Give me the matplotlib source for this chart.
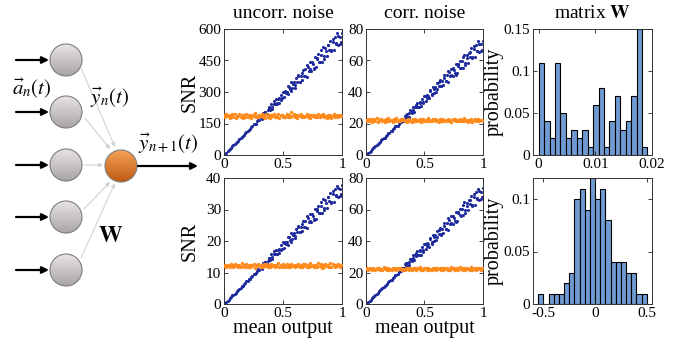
import numpy as np
import matplotlib
matplotlib.use('Agg')
import matplotlib.pyplot as plt
from matplotlib.patches import Circle
from matplotlib.colors import LinearSegmentedColormap

plt.rcParams['font.family'] = ['Liberation Serif', 'DejaVu Serif']
plt.rcParams['mathtext.fontset'] = 'stix'

# ---------------- data ----------------
# mean output of the neurons (x) for the blue (signal-driven) cloud
blue_x = [0.01, 0.02, 0.03, 0.04, 0.05, 0.06, 0.07, 0.08, 0.09, 0.10,
          0.11, 0.12, 0.13, 0.14, 0.15, 0.16, 0.17, 0.18, 0.19, 0.20,
          0.21, 0.22, 0.23, 0.24, 0.25, 0.26, 0.27, 0.28, 0.29, 0.30,
          0.31, 0.32, 0.33, 0.34, 0.35, 0.36, 0.37, 0.38, 0.39, 0.40,
          0.41, 0.42, 0.43, 0.44, 0.45, 0.46, 0.47, 0.48, 0.49, 0.50,
          0.51, 0.52, 0.53, 0.54, 0.55, 0.56, 0.57, 0.58, 0.59, 0.60,
          0.61, 0.62, 0.63, 0.64, 0.65, 0.66, 0.67, 0.68, 0.69, 0.70,
          0.71, 0.72, 0.73, 0.74, 0.75, 0.76, 0.77, 0.78, 0.79, 0.80,
          0.81, 0.82, 0.83, 0.84, 0.85, 0.86, 0.87, 0.88, 0.89, 0.90,
          0.91, 0.92, 0.93, 0.94, 0.95, 0.96, 0.97, 0.98, 0.99, 1.00,
          0.325, 0.345, 0.365, 0.385, 0.405, 0.425, 0.445, 0.465, 0.485, 0.505,
          0.525, 0.545, 0.565, 0.585, 0.605, 0.625, 0.645, 0.665, 0.685, 0.705,
          0.725, 0.745, 0.765, 0.785, 0.805, 0.825, 0.845, 0.865, 0.885, 0.905,
          0.925, 0.945, 0.965, 0.985]

snr_uncorr_top = [6, 11, 17, 22, 29, 34, 41, 46, 51, 56,
                  63, 68, 76, 80, 86, 89, 97, 103, 111, 114,
                  120, 122, 131, 137, 146, 148, 150, 160, 169, 167,
                  182, 173, 199, 190, 207, 193, 213, 227, 216, 244,
                  220, 244, 243, 266, 246, 267, 249, 287, 271, 302,
                  276, 305, 302, 289, 326, 313, 348, 317, 346, 321,
                  365, 350, 381, 350, 378, 357, 405, 376, 409, 371,
                  421, 402, 441, 401, 432, 416, 465, 418, 464, 479,
                  443, 477, 445, 512, 470, 510, 471, 522, 502, 544,
                  498, 540, 498, 563, 531, 580, 525, 564, 536, 581,
                  180, 206, 196, 226, 229, 257, 244, 270, 263, 299,
                  293, 329, 303, 337, 335, 374, 349, 390, 375, 430,
                  409, 442, 410, 456, 445, 498, 458, 493, 525, 495,
                  554, 528, 567, 528]

snr_corr_top = [0.7, 1.4, 2.1, 2.7, 3.6, 4.2, 5.1, 5.7, 6.4, 7.0,
                7.8, 8.5, 9.5, 10.0, 10.7, 11.1, 12.1, 12.8, 13.8, 14.2,
                15.0, 15.2, 16.3, 17.1, 18.2, 18.4, 18.7, 19.9, 21.1, 20.8,
                22.7, 21.6, 24.8, 23.7, 25.8, 24.0, 26.5, 28.3, 26.9, 30.4,
                27.4, 30.4, 30.3, 33.1, 30.7, 33.3, 31.0, 35.8, 33.8, 37.6,
                34.4, 38.0, 37.6, 36.0, 40.6, 39.0, 43.4, 39.5, 43.1, 40.0,
                45.5, 43.6, 47.5, 43.6, 47.1, 44.5, 50.5, 46.8, 51.0, 46.2,
                52.5, 50.1, 54.9, 50.0, 53.8, 51.8, 57.9, 52.1, 57.8, 59.7,
                55.2, 59.4, 55.4, 63.8, 58.6, 63.5, 58.7, 65.0, 62.5, 67.8,
                62.1, 67.3, 62.1, 70.1, 66.2, 72.3, 65.4, 70.3, 66.8, 72.4,
                22.4, 25.7, 24.4, 28.2, 28.5, 32.0, 30.4, 33.6, 32.8, 37.3,
                36.5, 41.0, 37.8, 42.0, 41.7, 46.6, 43.5, 48.6, 46.7, 53.6,
                51.0, 55.1, 51.1, 56.8, 55.4, 62.1, 57.1, 61.4, 65.4, 61.7,
                69.0, 65.8, 70.6, 65.8]

snr_uncorr_bot = [0.4, 0.7, 1.1, 1.4, 1.9, 2.2, 2.7, 3.0, 3.3, 3.6,
                  4.1, 4.4, 4.9, 5.2, 5.6, 5.8, 6.3, 6.7, 7.2, 7.4,
                  7.8, 7.9, 8.5, 8.9, 9.5, 9.6, 9.7, 10.4, 11.0, 10.8,
                  11.8, 11.2, 12.9, 12.3, 13.4, 12.5, 13.8, 14.7, 14.0, 15.8,
                  14.3, 15.8, 15.8, 17.3, 16.0, 17.3, 16.2, 18.6, 17.6, 19.6,
                  17.9, 19.8, 19.6, 18.8, 21.2, 20.3, 22.6, 20.6, 22.5, 20.8,
                  23.7, 22.7, 24.7, 22.7, 24.5, 23.2, 26.3, 24.4, 26.5, 24.1,
                  27.3, 26.1, 28.6, 26.0, 28.0, 27.0, 30.2, 27.1, 30.1, 31.1,
                  28.8, 31.0, 28.9, 33.2, 30.5, 33.1, 30.6, 33.9, 32.6, 35.3,
                  32.3, 35.0, 32.3, 36.5, 34.5, 37.6, 34.1, 36.6, 34.8, 37.7,
                  11.7, 13.4, 12.7, 14.7, 14.9, 16.7, 15.8, 17.5, 17.1, 19.4,
                  19.0, 21.4, 19.7, 21.9, 21.7, 24.3, 22.7, 25.3, 24.3, 27.9,
                  26.5, 28.7, 26.6, 29.6, 28.9, 32.3, 29.7, 32.0, 34.1, 32.1,
                  36.0, 34.3, 36.8, 34.3]

snr_corr_bot = [0.8, 1.4, 2.1, 2.8, 3.7, 4.3, 5.2, 5.8, 6.4, 7.1,
                8.0, 8.6, 9.6, 10.1, 10.9, 11.2, 12.3, 13.0, 14.0, 14.4,
                15.2, 15.4, 16.5, 17.3, 18.4, 18.7, 18.9, 20.2, 21.3, 21.1,
                23.0, 21.8, 25.1, 24.0, 26.1, 24.4, 26.9, 28.7, 27.3, 30.8,
                27.8, 30.8, 30.7, 33.6, 31.1, 33.7, 31.4, 36.2, 34.2, 38.1,
                34.9, 38.5, 38.1, 36.5, 41.2, 39.5, 44.0, 40.0, 43.7, 40.5,
                46.1, 44.2, 48.1, 44.2, 47.7, 45.1, 51.2, 47.5, 51.7, 46.9,
                53.2, 50.8, 55.7, 50.6, 54.6, 52.5, 58.7, 52.8, 58.6, 60.5,
                56.0, 60.2, 56.2, 64.7, 59.4, 64.4, 59.5, 65.9, 63.4, 68.7,
                62.9, 68.2, 62.9, 71.1, 67.1, 73.3, 66.3, 71.2, 67.7, 73.4,
                22.7, 26.0, 24.8, 28.5, 28.9, 32.5, 30.8, 34.1, 33.2, 37.8,
                37.0, 41.6, 38.3, 42.6, 42.3, 47.2, 44.1, 49.3, 47.4, 54.3,
                51.7, 55.8, 51.8, 57.6, 56.2, 62.9, 57.8, 62.3, 66.3, 62.5,
                70.0, 66.7, 71.6, 66.7]

# mean output for the orange (noise-only) cloud
orange_x = [0.00, 0.01, 0.02, 0.03, 0.04, 0.05, 0.06, 0.07, 0.08, 0.09,
            0.10, 0.11, 0.12, 0.13, 0.14, 0.15, 0.16, 0.17, 0.18, 0.19,
            0.20, 0.21, 0.22, 0.23, 0.24, 0.25, 0.26, 0.27, 0.28, 0.29,
            0.30, 0.31, 0.32, 0.33, 0.34, 0.35, 0.36, 0.37, 0.38, 0.39,
            0.40, 0.41, 0.42, 0.43, 0.44, 0.45, 0.46, 0.47, 0.48, 0.49,
            0.50, 0.51, 0.52, 0.53, 0.54, 0.55, 0.56, 0.57, 0.58, 0.59,
            0.60, 0.61, 0.62, 0.63, 0.64, 0.65, 0.66, 0.67, 0.68, 0.69,
            0.70, 0.71, 0.72, 0.73, 0.74, 0.75, 0.76, 0.77, 0.78, 0.79,
            0.80, 0.81, 0.82, 0.83, 0.84, 0.85, 0.86, 0.87, 0.88, 0.89,
            0.90, 0.91, 0.92, 0.93, 0.94, 0.95, 0.96, 0.97, 0.98, 0.99]

flat_uncorr_top = [189, 179, 195, 184, 191, 176, 187, 193, 182, 197,
                   178, 188, 185, 194, 181, 190, 175, 192, 183, 196,
                   180, 189, 186, 177, 191, 184, 198, 182, 188, 179,
                   192, 185, 195, 181, 189, 178, 193, 183, 190, 176,
                   191, 184, 194, 180, 187, 182, 193, 177, 189, 192,
                   181, 188, 179, 196, 183, 190, 180, 204, 185, 194,
                   182, 189, 178, 192, 184, 193, 181, 187, 180, 188,
                   195, 183, 190, 175, 192, 185, 191, 179, 188, 182,
                   194, 180, 189, 184, 196, 181, 187, 178, 190, 183,
                   192, 177, 188, 193, 182, 186, 191, 180, 189, 185]

flat_corr_top = [22.4, 21.3, 23.1, 21.9, 22.7, 21.0, 22.2, 22.9, 21.7, 23.3,
                 21.2, 22.3, 22.0, 23.0, 21.5, 22.5, 20.9, 22.8, 21.8, 23.2,
                 21.4, 22.4, 22.1, 21.1, 22.7, 21.9, 23.4, 21.7, 22.3, 21.3,
                 22.8, 22.0, 23.1, 21.5, 22.4, 21.2, 22.9, 21.8, 22.5, 21.0,
                 22.7, 21.9, 23.0, 21.4, 22.2, 21.7, 22.9, 21.1, 22.4, 22.8,
                 21.5, 22.3, 21.3, 23.2, 21.8, 22.5, 21.4, 22.7, 22.0, 23.0,
                 21.7, 22.4, 21.2, 22.8, 21.9, 22.9, 21.5, 22.2, 21.4, 22.3,
                 23.1, 21.8, 22.5, 20.9, 22.8, 22.0, 22.7, 21.3, 22.3, 21.7,
                 23.0, 21.4, 22.4, 21.9, 23.2, 21.5, 22.2, 21.2, 22.5, 21.8,
                 22.8, 21.1, 22.3, 22.9, 21.7, 22.1, 22.7, 21.4, 22.4, 22.0]

flat_uncorr_bot = [12.1, 12.4, 11.8, 12.5, 12.2, 11.9, 12.7, 12.3, 11.6, 12.6,
                   12.0, 12.5, 11.7, 12.3, 11.9, 12.9, 12.1, 12.4, 11.8, 12.7,
                   11.9, 12.3, 11.7, 12.5, 12.1, 12.6, 11.5, 12.5, 12.0, 12.8,
                   12.3, 11.8, 12.3, 11.9, 12.7, 12.1, 12.6, 11.7, 12.4, 11.9,
                   12.7, 12.1, 12.5, 11.8, 12.5, 12.0, 12.9, 11.7, 12.3, 11.9,
                   12.6, 12.4, 11.6, 12.7, 11.9, 12.3, 11.8, 12.7, 12.1, 12.5,
                   11.6, 12.5, 12.0, 12.7, 11.7, 12.4, 11.9, 12.8, 12.1, 12.6,
                   11.7, 12.3, 11.9, 13.0, 12.1, 12.5, 11.6, 12.2, 12.4, 11.8,
                   12.9, 12.0, 12.6, 11.5, 12.5, 11.9, 12.7, 12.1, 12.3, 11.7,
                   12.9, 11.9, 12.7, 12.3, 11.6, 12.5, 12.1, 12.8, 11.7, 12.4]

flat_corr_bot = [22.2, 22.6, 21.8, 22.8, 22.3, 21.9, 22.9, 22.5, 21.5, 22.8,
                 22.0, 22.7, 21.6, 22.4, 21.9, 23.2, 22.1, 22.6, 21.8, 23.0,
                 21.9, 22.5, 21.7, 22.8, 22.2, 22.8, 21.3, 22.7, 22.0, 23.1,
                 22.5, 21.8, 22.4, 21.9, 22.9, 22.1, 22.8, 21.6, 22.6, 21.9,
                 23.0, 22.2, 22.8, 21.8, 22.7, 22.0, 23.2, 21.7, 22.5, 21.9,
                 22.8, 22.6, 21.5, 22.9, 21.9, 22.4, 21.8, 23.0, 22.1, 22.8,
                 21.4, 22.7, 22.0, 22.9, 21.6, 22.6, 21.9, 23.1, 22.2, 22.8,
                 21.7, 22.5, 21.9, 23.4, 22.1, 22.8, 21.5, 22.3, 22.6, 21.8,
                 23.2, 22.0, 22.8, 21.3, 22.7, 21.9, 23.0, 22.2, 22.5, 21.6,
                 23.3, 21.9, 22.9, 22.4, 21.4, 22.8, 22.1, 23.1, 21.7, 22.6]

# histograms of the weight matrix W
w_top_prob = [0.11, 0.04, 0.02, 0.11, 0.05, 0.02, 0.03, 0.02, 0.03, 0.01,
              0.06, 0.08, 0.01, 0.04, 0.07, 0.03, 0.04, 0.07, 0.15, 0.01]
w_top_start, w_top_width = 0.0, 0.00096

w_bot_prob = [0.01, 0.00, 0.01, 0.01, 0.01, 0.02, 0.03, 0.10, 0.11, 0.09,
              0.12, 0.10, 0.11, 0.08, 0.04, 0.04, 0.04, 0.03, 0.03, 0.01, 0.01]
w_bot_start, w_bot_width = -0.55, 0.05

# ---------------- figure ----------------
W, H = 678.0, 339.0
BLUE = '#1d2b9c'
ORANGE = '#ff8a1c'
BAR = '#6f9bd1'

fig = plt.figure(figsize=(W / 100, H / 100), dpi=100)


def px_axes(left, top, right, bottom):
    return fig.add_axes([left / W, 1 - bottom / H, (right - left) / W, (bottom - top) / H])


def style(ax):
    ax.tick_params(direction='in', length=3, width=0.6, top=True, right=True,
                   labelsize=11, pad=2, colors='#222222', labelcolor='black')
    for s in ax.spines.values():
        s.set_linewidth(0.7)
        s.set_color('#333333')


# ---- network sketch on the left ----
net = fig.add_axes([0, 0, 210 / W, 1])
net.set_xlim(0, 210)
net.set_ylim(339, 0)
net.axis('off')

grey_map = LinearSegmentedColormap.from_list('g', ['#e8e4e4', '#a9a5a5'])
orange_map = LinearSegmentedColormap.from_list('o', ['#f7a257', '#bd5a10'])
grad = np.linspace(0, 1, 64).reshape(-1, 1)


def node(cx, cy, r, cmap):
    im = net.imshow(grad, cmap=cmap, extent=(cx - r, cx + r, cy + r, cy - r),
                    aspect='auto', zorder=2)
    c = Circle((cx, cy), r, fill=False, ec='#7d7d7d', lw=0.8, zorder=3)
    net.add_patch(c)
    im.set_clip_path(c)


node_y = [60, 112, 165, 217, 270]
for y in node_y:
    node(66, y, 16, grey_map)
    net.annotate('', xy=(49, y), xytext=(16, y),
                 arrowprops=dict(arrowstyle='-|>', color='black', lw=1.6,
                                 mutation_scale=10, shrinkA=0, shrinkB=0))
node(121, 166, 16, orange_map)
net.annotate('', xy=(198, 166), xytext=(138, 166),
             arrowprops=dict(arrowstyle='-|>', color='black', lw=1.6,
                             mutation_scale=10, shrinkA=0, shrinkB=0))

links = [((81, 68), (115, 147)), ((85, 118), (110, 149)), ((85, 165), (103, 165)),
         ((84, 209), (110, 182)), ((81, 258), (115, 183))]
for start, end in links:
    net.annotate('', xy=end, xytext=start,
                 arrowprops=dict(arrowstyle='-|>', color='#d2d2d2', lw=0.8,
                                 mutation_scale=6, shrinkA=0, shrinkB=0))

net.text(32, 88, r'$\vec{a}_n(t)$', fontsize=15, ha='center', va='center')
net.text(109, 98, r'$\vec{y}_n(t)$', fontsize=15, ha='center', va='center')
net.text(168, 144, r'$\vec{y}_{n+1}(t)$', fontsize=15, ha='center', va='center')
net.text(111, 236, r'$\mathbf{W}$', fontsize=17, ha='center', va='center')

# ---- SNR scatter panels ----
panels = [
    ((224, 29, 342, 155), snr_uncorr_top, flat_uncorr_top, 600, [0, 150, 300, 450, 600], 'uncorr. noise', True, False),
    ((366, 29, 483, 155), snr_corr_top, flat_corr_top, 80, [0, 20, 40, 60, 80], 'corr. noise', False, False),
    ((224, 178, 342, 304), snr_uncorr_bot, flat_uncorr_bot, 40, [0, 10, 20, 30, 40], None, True, True),
    ((366, 178, 483, 304), snr_corr_bot, flat_corr_bot, 80, [0, 20, 40, 60, 80], None, False, True),
]

for box, blue_y, orange_y, ymax, yt, title, left_col, bottom_row in panels:
    ax = px_axes(*box)
    ax.scatter(blue_x, blue_y, s=5, c=BLUE, linewidths=0, zorder=2)
    ax.scatter(orange_x, orange_y, s=6, c=ORANGE, linewidths=0, zorder=3)
    ax.set_xlim(0, 1)
    ax.set_ylim(0, ymax)
    ax.set_xticks([0, 0.5, 1])
    ax.set_xticklabels(['0', '0.5', '1'])
    ax.set_yticks(yt)
    ax.set_yticklabels([str(v) for v in yt])
    style(ax)
    if title:
        ax.set_title(title, fontsize=14, pad=8)
    if left_col:
        ax.set_ylabel('SNR', fontsize=14.5, va='center')
        ax.yaxis.set_label_coords(-0.29, 0.5)
    if bottom_row:
        ax.set_xlabel('mean output', fontsize=14.5, va='top')
        ax.xaxis.set_label_coords(0.5, -0.12)

# ---- weight histograms ----
ax = px_axes(533, 29, 652, 155)
ax.bar([w_top_start + i * w_top_width for i in range(len(w_top_prob))], w_top_prob,
       width=w_top_width, align='edge', color=BAR, edgecolor='black', linewidth=0.8)
ax.set_xlim(-0.001, 0.02)
ax.set_ylim(0, 0.15)
ax.set_xticks([0, 0.01, 0.02])
ax.set_xticklabels(['0', '0.01', '0.02'])
ax.set_yticks([0, 0.05, 0.1, 0.15])
ax.set_yticklabels(['0', '0.05', '0.1', '0.15'])
style(ax)
ax.set_title(r'matrix $\mathbf{W}$', fontsize=14, pad=8)
ax.set_ylabel('probability', fontsize=14.5, va='center')
ax.yaxis.set_label_coords(-0.33, 0.5)

ax = px_axes(533, 178, 652, 304)
ax.bar([w_bot_start + i * w_bot_width for i in range(len(w_bot_prob))], w_bot_prob,
       width=w_bot_width, align='edge', color=BAR, edgecolor='black', linewidth=0.8)
ax.set_xlim(-0.6, 0.55)
ax.set_ylim(0, 0.12)
ax.set_xticks([-0.5, 0, 0.5])
ax.set_xticklabels(['-0.5', '0', '0.5'])
ax.set_yticks([0, 0.05, 0.1])
ax.set_yticklabels(['0', '0.05', '0.1'])
style(ax)
ax.set_ylabel('probability', fontsize=14.5, va='center')
ax.yaxis.set_label_coords(-0.33, 0.5)

fig.savefig('out.png', dpi=100)
